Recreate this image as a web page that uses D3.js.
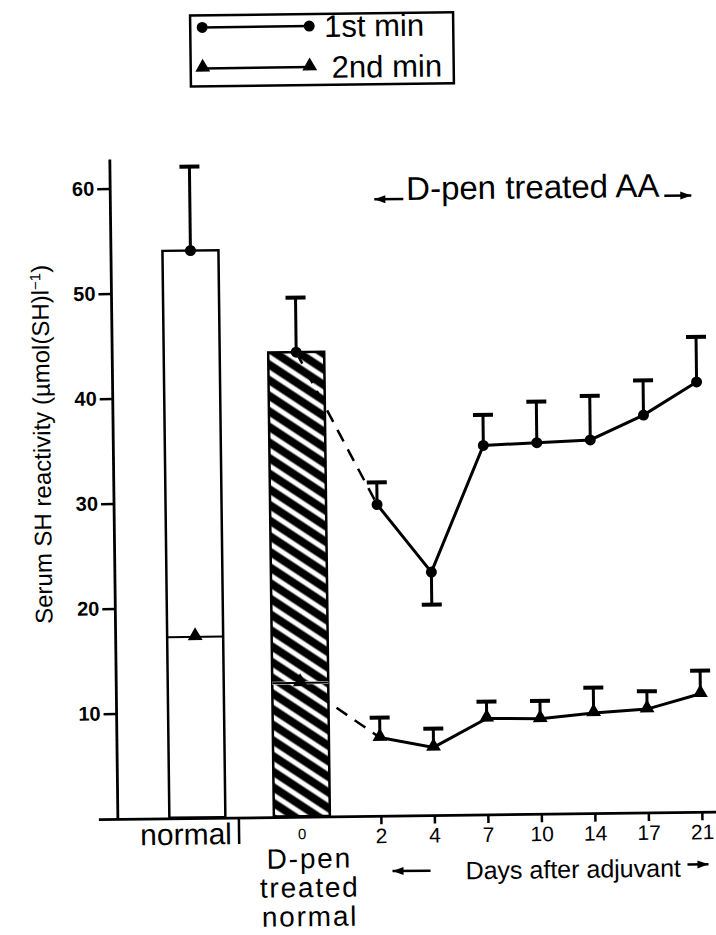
<!DOCTYPE html>
<html><head><meta charset="utf-8">
<script src="https://cdn.jsdelivr.net/npm/d3@7"></script>
<style>
body{margin:0;background:#fff}
svg{display:block;font-family:"Liberation Sans",Arial,Helvetica,sans-serif}
</style></head><body>
<svg id="chart" width="716" height="935"></svg>
<script>
// Serum SH reactivity: reference bars and D-pen treated adjuvant arthritis time course
const barGroups = ["normal", "D-pen treated normal"];
const barFirstMin = [54.0, 44.2];
const barFirstMinErrEnd = [62.0, 49.4];
const barSecondMin = [17.2, 12.7];

const days = ["2", "4", "7", "10", "14", "17", "21"];
const firstMin = [29.6, 23.1, 35.1, 35.3, 35.5, 37.8, 40.9];
const firstMinErrEnd = [31.7, 20.0, 38.0, 39.2, 39.7, 41.1, 45.2];
const secondMin = [7.4, 6.4, 9.1, 9.0, 9.5, 9.8, 11.2];
const secondMinErrEnd = [9.3, 8.2, 10.7, 10.7, 11.9, 11.5, 13.4];

const yTicks = [10, 20, 30, 40, 50, 60];
const seriesNames = ["1st min", "2nd min"];

const svg = d3.select("#chart");
const g = svg.append("g").attr("transform", "rotate(-0.7,400,500)");

const y = d3.scaleLinear().domain([0, 60]).range([815, 185]);
const xBar = d3.scalePoint().domain(barGroups).range([193.5, 298]);
const xDay = d3.scalePoint().domain(days).range([377, 698]);
const barW = 56;
const axisX = 114, axisY = y(0);

// hatch fill for the D-pen treated bar
const defs = svg.append("defs");
const pat = defs.append("pattern").attr("id", "hatch")
  .attr("patternUnits", "userSpaceOnUse").attr("width", 13).attr("height", 13)
  .attr("patternTransform", "rotate(34)");
pat.append("rect").attr("width", 13).attr("height", 13).attr("fill", "#fff");
pat.append("line").attr("x1", 0).attr("x2", 13).attr("y1", 6.5).attr("y2", 6.5)
  .attr("stroke", "#000").attr("stroke-width", 8);

const tri = d3.symbol().type(d3.symbolTriangle).size(95);

// ---- bars ----
g.selectAll("rect.bar").data(barGroups).join("rect").attr("class", "bar")
  .attr("x", d => xBar(d) - barW / 2)
  .attr("y", (d, i) => y(barFirstMin[i]))
  .attr("width", barW)
  .attr("height", (d, i) => y(0) - y(barFirstMin[i]))
  .attr("fill", (d, i) => i === 0 ? "#fff" : "url(#hatch)")
  .attr("stroke", "#000").attr("stroke-width", 2.5);

// 2nd-min level drawn across each bar
g.selectAll("line.lvl-w").data(barGroups).join("line").attr("class", "lvl-w")
  .attr("x1", d => xBar(d) - barW / 2).attr("x2", d => xBar(d) + barW / 2)
  .attr("y1", (d, i) => y(barSecondMin[i])).attr("y2", (d, i) => y(barSecondMin[i]))
  .attr("stroke", "#fff").attr("stroke-width", (d, i) => i === 0 ? 0 : 3);
g.selectAll("line.lvl").data(barGroups).join("line").attr("class", "lvl")
  .attr("x1", d => xBar(d) - barW / 2).attr("x2", d => xBar(d) + barW / 2)
  .attr("y1", (d, i) => y(barSecondMin[i])).attr("y2", (d, i) => y(barSecondMin[i]))
  .attr("stroke", "#000").attr("stroke-width", 2);

// error bars (value to bar end, with cap)
function errBar(sel, xs, v, e) {
  sel.append("line").attr("x1", xs).attr("x2", xs).attr("y1", y(v)).attr("y2", y(e))
    .attr("stroke", "#000").attr("stroke-width", 3);
  sel.append("line").attr("x1", xs - 10).attr("x2", xs + 10).attr("y1", y(e)).attr("y2", y(e))
    .attr("stroke", "#000").attr("stroke-width", 4);
}
barGroups.forEach((d, i) => errBar(g, xBar(d), barFirstMin[i], barFirstMinErrEnd[i]));
days.forEach((d, i) => errBar(g, xDay(d), firstMin[i], firstMinErrEnd[i]));
days.forEach((d, i) => errBar(g, xDay(d), secondMin[i], secondMinErrEnd[i]));

// dashed links from the treated bar to day 2
const dashed = [
  [[xBar(barGroups[1]), barFirstMin[1]], [xDay(days[0]), firstMin[0]]],
  [[xBar(barGroups[1]), barSecondMin[1]], [xDay(days[0]), secondMin[0]]]
];
g.selectAll("path.dash").data(dashed).join("path").attr("class", "dash")
  .attr("d", d => d3.line().x(p => p[0]).y(p => y(p[1]))(d))
  .attr("fill", "none").attr("stroke", "#000").attr("stroke-width", 2.5)
  .attr("stroke-dasharray", "13,9");

// time-course lines
const line = d3.line().x(d => xDay(d[0])).y(d => y(d[1]));
g.append("path").attr("d", line(days.map((d, i) => [d, firstMin[i]])))
  .attr("fill", "none").attr("stroke", "#000").attr("stroke-width", 3);
g.append("path").attr("d", line(days.map((d, i) => [d, secondMin[i]])))
  .attr("fill", "none").attr("stroke", "#000").attr("stroke-width", 3);

// markers
const markX = barGroups.map(xBar).concat(days.map(xDay));
const circV = barFirstMin.concat(firstMin);
g.selectAll("circle.m1").data(markX).join("circle").attr("class", "m1")
  .attr("cx", d => d).attr("cy", (d, i) => y(circV[i])).attr("r", 5.5).attr("fill", "#000");
const triV = barSecondMin.concat(secondMin);
g.selectAll("path.m2").data(markX).join("path").attr("class", "m2")
  .attr("d", tri).attr("transform", (d, i) => `translate(${d},${y(triV[i]) - 1})`)
  .attr("fill", "#000");

// ---- axes ----
g.append("line").attr("x1", axisX).attr("x2", axisX).attr("y1", 156).attr("y2", axisY + 1)
  .attr("stroke", "#000").attr("stroke-width", 2.8);
g.append("line").attr("x1", 95).attr("x2", 725).attr("y1", axisY + 1).attr("y2", axisY + 1)
  .attr("stroke", "#000").attr("stroke-width", 2.8);

const yAxis = d3.axisLeft(y).tickValues(yTicks).tickSize(13).tickPadding(3);
const ya = g.append("g").attr("transform", `translate(${axisX},0)`).call(yAxis);
ya.select(".domain").remove();
ya.selectAll(".tick line").attr("stroke", "#000").attr("stroke-width", 2.5);
ya.selectAll(".tick text").attr("font-size", 20).attr("fill", "#000")
  .attr("font-family", "Liberation Sans, Arial, sans-serif").attr("font-weight", "bold");

const xAxis = d3.axisBottom(xDay).tickSize(8).tickPadding(4);
const xa = g.append("g").attr("transform", `translate(0,${axisY + 1})`).call(xAxis);
xa.select(".domain").remove();
xa.selectAll(".tick line").attr("stroke", "#000").attr("stroke-width", 2.5);
xa.selectAll(".tick text").attr("font-size", 21).attr("fill", "#000")
  .attr("font-family", "Liberation Sans, Arial, sans-serif");

// category labels under the bars
g.append("text").attr("x", 182).attr("y", 842).attr("text-anchor", "middle")
  .attr("font-size", 30).text("normal");
g.append("line").attr("x1", 235).attr("x2", 235).attr("y1", axisY).attr("y2", 842)
  .attr("stroke", "#000").attr("stroke-width", 2.5);
g.append("text").attr("x", xBar(barGroups[1])).attr("y", 838).attr("text-anchor", "middle")
  .attr("font-size", 15).text("0");
const stack = ["D-pen", "treated", "normal"];
g.selectAll("text.stk").data(stack).join("text").attr("class", "stk")
  .attr("x", 305).attr("y", (d, i) => 867 + i * 29).attr("text-anchor", "middle")
  .attr("font-size", 28).attr("letter-spacing", 1.8).text(d => d);

// arrows
function arrow(x1, x2, yy, head) {
  g.append("line").attr("x1", x1).attr("x2", x2).attr("y1", yy).attr("y2", yy)
    .attr("stroke", "#000").attr("stroke-width", 2.5);
  const tip = head === "left" ? x1 : x2, s = head === "left" ? 1 : -1;
  g.append("path").attr("d", `M${tip},${yy} L${tip + s * 11},${yy - 4} L${tip + s * 11},${yy + 4} Z`)
    .attr("fill", "#000");
}
arrow(388, 426, 871, "left");
g.append("text").attr("x", 461).attr("y", 880).attr("font-size", 25).text("Days after adjuvant");
arrow(683, 704, 868, "right");

// header over the treated period
arrow(378, 407, 199, "left");
g.append("text").attr("x", 410).attr("y", 200).attr("font-size", 33).text("D-pen treated AA");
arrow(668, 695, 199, "right");

// y-axis title
const yt = g.append("text").attr("transform", "translate(51,440) rotate(-90)")
  .attr("text-anchor", "middle").attr("font-size", 24);
yt.append("tspan").text("Serum SH reactivity (µmol(SH)l");
yt.append("tspan").attr("dy", -8).attr("font-size", 15).text("−1");
yt.append("tspan").attr("dy", 8).text(")");

// ---- legend ----
const lg = g.append("g");
lg.append("rect").attr("x", 196).attr("y", 13).attr("width", 263).attr("height", 71)
  .attr("fill", "none").attr("stroke", "#000").attr("stroke-width", 2.5);
const rowY = [25, 66];
lg.selectAll("line.ll").data(seriesNames).join("line").attr("class", "ll")
  .attr("x1", 208).attr("x2", 315).attr("y1", (d, i) => rowY[i]).attr("y2", (d, i) => rowY[i])
  .attr("stroke", "#000").attr("stroke-width", 2.5);
[208, 315].forEach(xx => {
  lg.append("circle").attr("cx", xx).attr("cy", rowY[0]).attr("r", 5.5).attr("fill", "#000");
  lg.append("path").attr("d", tri).attr("transform", `translate(${xx},${rowY[1] - 1})`).attr("fill", "#000");
});
lg.selectAll("text.lt").data(seriesNames).join("text").attr("class", "lt")
  .attr("x", (d, i) => i === 0 ? 330 : 337).attr("y", (d, i) => rowY[i] + 11)
  .attr("font-size", 31).text(d => d);
</script>
</body></html>
